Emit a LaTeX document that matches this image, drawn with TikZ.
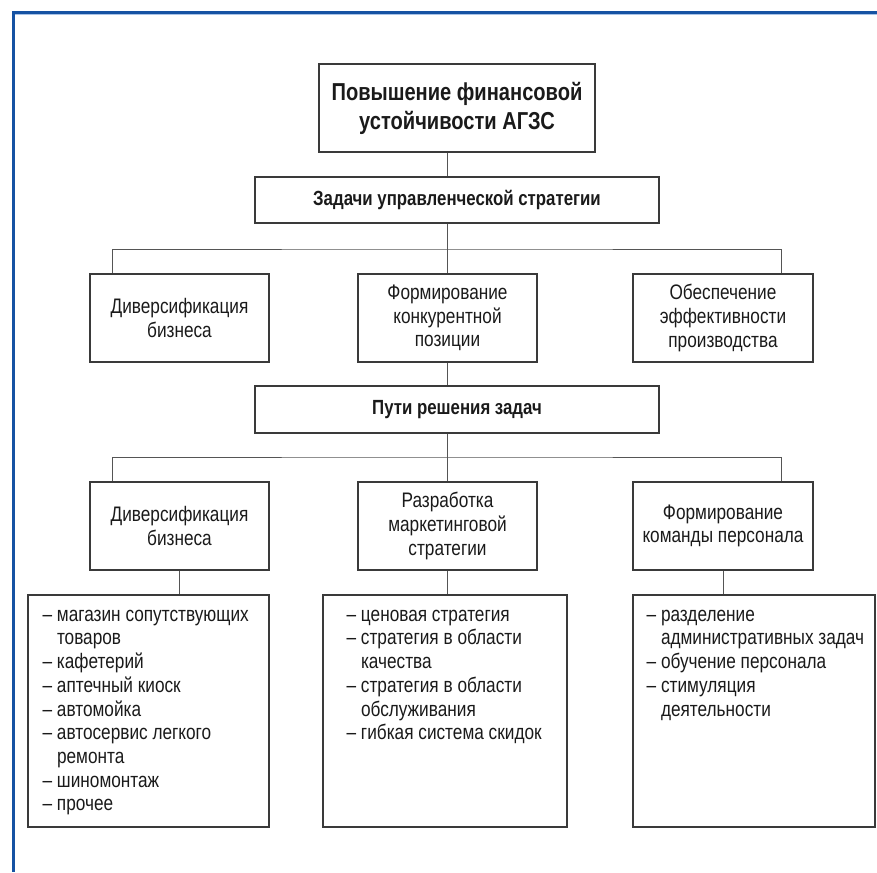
\documentclass[tikz,border=0pt]{standalone}
\usepackage{fontspec}
\setmainfont{Liberation Sans}[FakeStretch=0.82]
\usepackage{tikz}

\definecolor{frameblue}{HTML}{1652A3}
\definecolor{framelight}{HTML}{A9C3E6}
\definecolor{boxgray}{HTML}{3A3A3A}
\definecolor{linkgray}{HTML}{555555}
\definecolor{inkblack}{HTML}{1A1A1A}

\begin{document}
\begin{tikzpicture}[x=1pt, y=-1pt,
    box/.style={draw=boxgray, line width=1.1pt, text=inkblack, align=center,
        font=\fontsize{21}{23.7}\selectfont},
    headbox/.style={box, font=\fontsize{20.5}{22}\selectfont\bfseries},
    listtext/.style={anchor=north west, inner sep=0pt, align=left, text=inkblack,
        font=\fontsize{21}{23.7}\selectfont},
    link/.style={draw=linkgray, line width=1pt}]

\useasboundingbox (0,0) rectangle (877,872);

% Rahmen (links und oben)
\fill[frameblue] (11.5,11.5) rectangle (15.3,872);
\fill[frameblue] (11.5,11.5) rectangle (877,13.8);
\fill[framelight] (15.3,13.8) rectangle (877,15);

% Ziel und Aufgaben
\node[box, minimum width=276, minimum height=88,
      font=\fontsize{24.5}{29}\selectfont\bfseries] (goal) at (457,108)
    {Повышение финансовой\\устойчивости АГЗС};
\node[headbox, minimum width=404, minimum height=46] (tasks) at (457,200)
    {Задачи управленческой стратегии};

\node[box, minimum width=179, minimum height=88] (divA) at (179.5,318)
    {Диверсификация\\бизнеса};
\node[box, minimum width=179, minimum height=88] (compA) at (447.5,318)
    {Формирование\\конкурентной\\позиции};
\node[box, minimum width=180, minimum height=88] (effA) at (723,318)
    {Обеспечение\\эффективности\\производства};

% Wege
\node[headbox, minimum width=404, minimum height=47] (ways) at (457,409.5)
    {Пути решения задач};

\node[box, minimum width=179, minimum height=88] (divB) at (179.5,526)
    {Диверсификация\\бизнеса};
\node[box, minimum width=179, minimum height=88] (markB) at (447.5,526)
    {Разработка\\маркетинговой\\стратегии};
\node[box, minimum width=180, minimum height=88] (teamB) at (723,526)
    {Формирование\\команды персонала};

% Listen
\node[box, minimum width=241, minimum height=232] (listA) at (148.5,711) {};
\node[box, minimum width=244, minimum height=232] (listB) at (445,711) {};
\node[box, minimum width=242, minimum height=232] (listC) at (754,711) {};

\node[listtext] (listAtext) at ([shift={(15,10)}]listA.north west)
    {\strut– магазин сопутствующих\\\phantom{– }товаров\\– кафетерий\\– аптечный киоск\\– автомойка\\– автосервис легкого\\\phantom{– }ремонта\\– шиномонтаж\\– прочее};
\node[listtext] (listBtext) at ([shift={(24,10)}]listB.north west)
    {\strut– ценовая стратегия\\– стратегия в области\\\phantom{– }качества\\– стратегия в области\\\phantom{– }обслуживания\\– гибкая система скидок};
\node[listtext] (listCtext) at ([shift={(14,10)}]listC.north west)
    {\strut– разделение\\\phantom{– }административных задач\\– обучение персонала\\– стимуляция\\\phantom{– }деятельности};

% Verbindungen
\coordinate (busA) at (447.5,249);
\coordinate (busB) at (447.5,457);

\draw[link] (goal.south -| compA) -- (tasks.north -| compA);
\draw[link] (tasks.south -| compA) -- (compA.north);
\draw[link] ([xshift=23pt]divA.north west) |- (busA) -| ([xshift=-32pt]effA.north east);

\draw[link] (compA.south) -- (ways.north -| compA);
\draw[link] (ways.south -| compA) -- (markB.north);
\draw[link] ([xshift=23pt]divB.north west) |- (busB) -| ([xshift=-32pt]teamB.north east);

\draw[link] (divB.south) -- (divB.south |- listA.north);
\draw[link] (markB.south) -- (markB.south |- listB.north);
\draw[link] (teamB.south) -- (teamB.south |- listC.north);

\end{tikzpicture}
\end{document}
